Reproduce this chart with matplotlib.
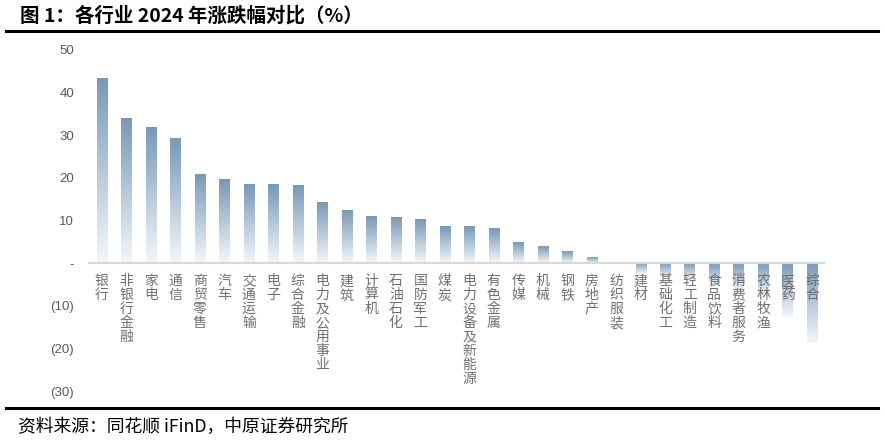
import numpy as np
import matplotlib.pyplot as plt
from matplotlib.lines import Line2D
from matplotlib.colors import LinearSegmentedColormap
from matplotlib.ticker import FuncFormatter

plt.rcParams['font.family'] = ['Noto Sans CJK SC', 'DejaVu Sans']

industries = ['银行', '非银行金融', '家电', '通信', '商贸零售', '汽车', '交通运输', '电子',
              '综合金融', '电力及公用事业', '建筑', '计算机', '石油石化', '国防军工', '煤炭',
              '电力设备及新能源', '有色金属', '传媒', '机械', '钢铁', '房地产', '纺织服装',
              '建材', '基础化工', '轻工制造', '食品饮料', '消费者服务', '农林牧渔', '医药', '综合']
change = [43.2, 33.8, 31.7, 29.1, 20.7, 19.5, 18.5, 18.3,
          18.1, 14.1, 12.2, 10.8, 10.6, 10.1, 8.5,
          8.5, 8.0, 4.7, 3.8, 2.6, 1.2, 0.1,
          -2.6, -3.2, -4.0, -5.5, -6.5, -8.0, -12.7, -18.8]
y_ticks = [50, 40, 30, 20, 10, 0, -10, -20, -30]


def fmt_tick(v, pos):
    if v == 0:
        return '-'
    if v < 0:
        return '(%d)' % abs(v)
    return '%d' % v


fig = plt.figure(figsize=(8.84, 4.41), dpi=100)
ax = fig.add_axes([0.0995, 0.113, 0.834, 0.774])

x = np.arange(len(industries))
bars = ax.bar(x, change, width=0.43, color='none', edgecolor='none', zorder=2)

# vertical gradient inside every bar, dark on top
cmap = LinearSegmentedColormap.from_list('bar', ['#f4f7fa', '#7799b8'])
grad = np.linspace(0, 1, 256).reshape(-1, 1)
for b in bars:
    x0, y0 = b.get_x(), b.get_y()
    w, h = b.get_width(), b.get_height()
    ytop, ybot = max(y0, y0 + h), min(y0, y0 + h)
    ax.imshow(grad, cmap=cmap, aspect='auto', origin='lower',
              extent=(x0, x0 + w, ybot, ytop), zorder=2, interpolation='bilinear')

ax.axhline(0, color='#d9d9d9', lw=1.6, zorder=3)

for i, name in enumerate(industries):
    ax.text(i, -2.6, '\n'.join(name), ha='center', va='top', fontsize=10,
            color='#707070', linespacing=1.0, zorder=4)

ax.set_xlim(-0.57, len(industries) - 0.47)
ax.set_ylim(-30, 50)
ax.set_yticks(y_ticks)
ax.yaxis.set_major_formatter(FuncFormatter(fmt_tick))
ax.tick_params(axis='y', length=0, pad=10, labelsize=9.5, labelcolor='#595959')
for lab in ax.get_yticklabels():
    lab.set_family(['Liberation Sans', 'DejaVu Sans'])
ax.set_xticks([])
for s in ax.spines.values():
    s.set_visible(False)

fig.text(0.023, 0.965, '图 1：各行业 2024 年涨跌幅对比（%）', fontsize=14,
         fontweight='bold', ha='left', va='center', color='black')
fig.add_artist(Line2D([0.007, 0.993], [0.929, 0.929], color='black', lw=2.2))
fig.add_artist(Line2D([0.007, 0.993], [0.075, 0.075], color='black', lw=2.2))
fig.text(0.02, 0.032, '资料来源：同花顺 iFinD，中原证券研究所', fontsize=12.8,
         ha='left', va='center', color='black')

fig.savefig('out.png', dpi=100)
